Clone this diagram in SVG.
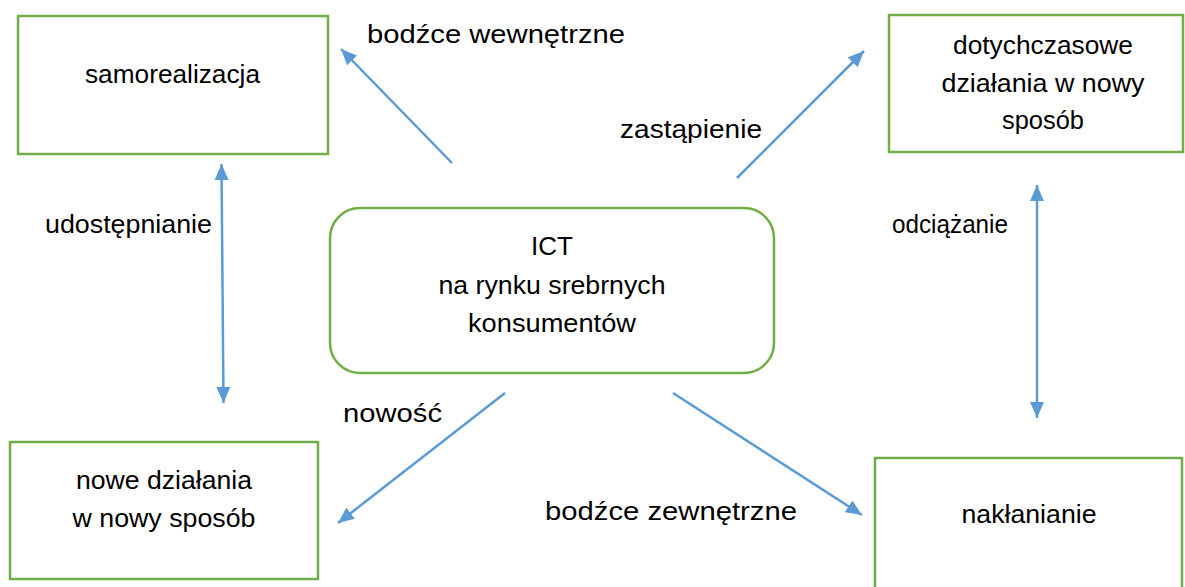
<svg xmlns="http://www.w3.org/2000/svg" width="1185" height="587" viewBox="0 0 1185 587">
<style>
.box{fill:#fff;stroke:#70AD47;stroke-width:2.5}
.t{font-family:"Liberation Sans",Arial,sans-serif;font-size:26px;fill:#000;text-anchor:middle}
.c{stroke:#5B9BD5;stroke-width:2.5;fill:none}
</style>
<defs>
<marker id="ah" markerUnits="userSpaceOnUse" markerWidth="17" markerHeight="15" refX="16" refY="7" orient="auto-start-reverse" viewBox="0 0 17 15">
<path d="M0,0 L16,7 L0,14 z" fill="#5B9BD5"/>
</marker>
</defs>
<rect width="1185" height="587" fill="#fff"/>
<g id="samorealizacja">
<rect class="box" x="18" y="16" width="310" height="138"/>
<text class="t" x="172.5" y="83" textLength="175" lengthAdjust="spacingAndGlyphs">samorealizacja</text>
</g>
<g id="dotychczasowe">
<rect class="box" x="889" y="15" width="294" height="137"/>
<text class="t" x="1043" y="54" textLength="180" lengthAdjust="spacingAndGlyphs">dotychczasowe</text>
<text class="t" x="1043" y="92" textLength="203" lengthAdjust="spacingAndGlyphs">działania w nowy</text>
<text class="t" x="1043" y="129" textLength="82" lengthAdjust="spacingAndGlyphs">sposób</text>
</g>
<g id="ict">
<rect class="box" x="330" y="208" width="444" height="165" rx="30" ry="30"/>
<text class="t" x="552" y="255">ICT</text>
<text class="t" x="552" y="294" textLength="227" lengthAdjust="spacingAndGlyphs">na rynku srebrnych</text>
<text class="t" x="552" y="332" textLength="168" lengthAdjust="spacingAndGlyphs">konsumentów</text>
</g>
<g id="nowe">
<rect class="box" x="10" y="442" width="308" height="137"/>
<text class="t" x="164" y="489" textLength="176" lengthAdjust="spacingAndGlyphs">nowe działania</text>
<text class="t" x="164" y="527" textLength="183" lengthAdjust="spacingAndGlyphs">w nowy sposób</text>
</g>
<g id="naklanianie">
<rect class="box" x="875" y="458" width="307" height="150"/>
<text class="t" x="1029" y="523" textLength="135" lengthAdjust="spacingAndGlyphs">nakłanianie</text>
</g>
<g id="connectors">
<line class="c" x1="452" y1="163" x2="341" y2="49" marker-end="url(#ah)"/>
<line class="c" x1="737" y1="178" x2="864" y2="51" marker-end="url(#ah)"/>
<line class="c" x1="221.5" y1="164" x2="223.5" y2="403" marker-start="url(#ah)" marker-end="url(#ah)"/>
<line class="c" x1="1037" y1="185" x2="1037" y2="418" marker-start="url(#ah)" marker-end="url(#ah)"/>
<line class="c" x1="505" y1="393" x2="338" y2="523" marker-end="url(#ah)"/>
<line class="c" x1="673" y1="393" x2="862" y2="515" marker-end="url(#ah)"/>
</g>
<g id="labels">
<text class="t" x="496" y="43" textLength="258" lengthAdjust="spacingAndGlyphs">bodźce wewnętrzne</text>
<text class="t" x="691" y="138" textLength="142" lengthAdjust="spacingAndGlyphs">zastąpienie</text>
<text class="t" x="128.5" y="233" textLength="167" lengthAdjust="spacingAndGlyphs">udostępnianie</text>
<text class="t" x="950" y="233" textLength="116" lengthAdjust="spacingAndGlyphs">odciążanie</text>
<text class="t" x="392.5" y="422" textLength="99" lengthAdjust="spacingAndGlyphs">nowość</text>
<text class="t" x="671" y="520" textLength="252" lengthAdjust="spacingAndGlyphs">bodźce zewnętrzne</text>
</g>
</svg>
